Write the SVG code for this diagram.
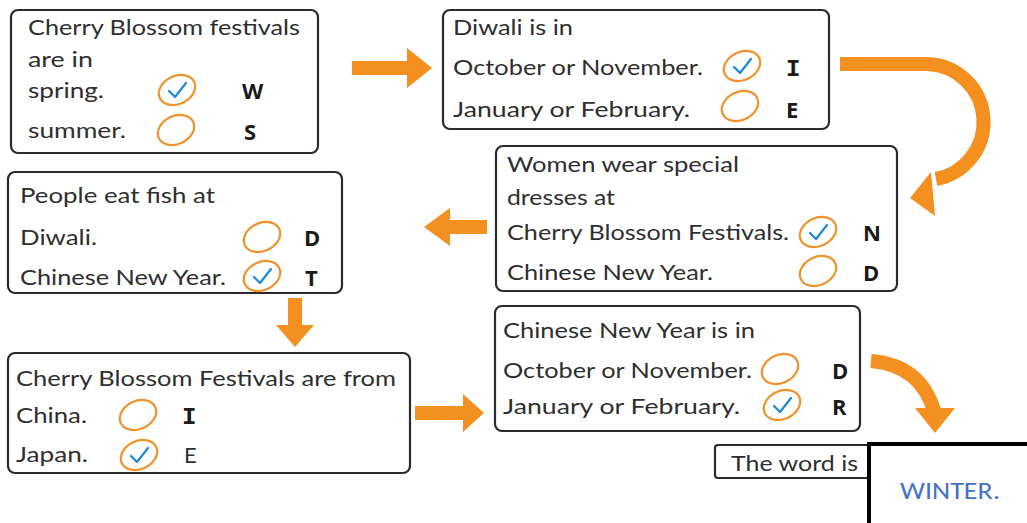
<svg xmlns="http://www.w3.org/2000/svg" width="1027" height="523" viewBox="0 0 1027 523">
<defs>
<style>
.box{fill:#fff;stroke:#2b2b2b;stroke-width:2.2}
.t{font-family:Lato,"Open Sans",sans-serif;font-size:22px;fill:#2f2f2f}
.l{font-family:"Open Sans","Liberation Sans",sans-serif;font-size:22px;font-weight:bold;fill:#1a1a1a}
.li{font-family:"Liberation Mono",monospace;font-size:24px;font-weight:bold;fill:#1a1a1a}
.ring{fill:none;stroke:#f0922b;stroke-width:2.2}
.tick{fill:none;stroke:#1e88d8;stroke-width:2.2;stroke-linecap:round;stroke-linejoin:round}
.arr{fill:#f39020}
.arrs{fill:none;stroke:#f39020;stroke-width:14}
</style>
<g id="ring"><ellipse class="ring" cx="0" cy="0" rx="19" ry="14" transform="rotate(-25)"/></g>
<g id="check"><ellipse class="ring" cx="0" cy="0" rx="19" ry="14" transform="rotate(-25)"/><path class="tick" d="M-8,1 L-2,7 L9,-7"/></g>
</defs>
<rect width="1027" height="523" fill="#fff"/>

<g id="connectors">
<path class="arr" d="M352,61 H407 V48 L432,68 L407,88 V75 H352 Z"/>
<path class="arrs" d="M840,64 H928 A58,58 0 0 1 936,179"/>
<path class="arr" d="M931,172 L910,198 L935,216 Z"/>
<path class="arr" d="M487,220 H450 V208 L424,227 L450,246 V234 H487 Z"/>
<path class="arr" d="M288,298 H302 V325 H314 L295,347 L276,325 H288 Z"/>
<path class="arr" d="M415,406 H463 V394 L484,413 L463,432 V420 H415 Z"/>
<path class="arrs" d="M871,361 Q922,365 935,414"/>
<path class="arr" d="M915,408 L955,408 L935,433 Z"/>
</g>

<g id="node1">
<rect class="box" x="11" y="10" width="307" height="143" rx="7"/>
<text class="t" x="28" y="35" textLength="272" lengthAdjust="spacingAndGlyphs">Cherry Blossom festivals</text>
<text class="t" x="28" y="67" textLength="65" lengthAdjust="spacingAndGlyphs">are in</text>
<text class="t" x="28" y="98" textLength="76" lengthAdjust="spacingAndGlyphs">spring.</text>
<text class="t" x="28" y="138" textLength="98" lengthAdjust="spacingAndGlyphs">summer.</text>
<use href="#check" x="177" y="90"/>
<use href="#ring" x="176" y="130"/>
<text class="l" x="242" y="99">W</text>
<text class="l" x="244" y="140">S</text>
</g>

<g id="node2">
<rect class="box" x="443" y="10" width="386" height="119" rx="7"/>
<text class="t" x="453" y="35" textLength="120" lengthAdjust="spacingAndGlyphs">Diwali is in</text>
<text class="t" x="453" y="75" textLength="250" lengthAdjust="spacingAndGlyphs">October or November.</text>
<text class="t" x="453" y="117" textLength="237" lengthAdjust="spacingAndGlyphs">January or February.</text>
<use href="#check" x="742" y="66"/>
<use href="#ring" x="740" y="106"/>
<text class="li" x="786" y="76">I</text>
<text class="l" x="786" y="118">E</text>
</g>

<g id="node3">
<rect class="box" x="496" y="146" width="401" height="145" rx="7"/>
<text class="t" x="507" y="172" textLength="232" lengthAdjust="spacingAndGlyphs">Women wear special</text>
<text class="t" x="507" y="205" textLength="108" lengthAdjust="spacingAndGlyphs">dresses at</text>
<text class="t" x="507" y="240" textLength="282" lengthAdjust="spacingAndGlyphs">Cherry Blossom Festivals.</text>
<text class="t" x="507" y="280" textLength="206" lengthAdjust="spacingAndGlyphs">Chinese New Year.</text>
<use href="#check" x="818" y="232"/>
<use href="#ring" x="818" y="271"/>
<text class="l" x="863" y="241">N</text>
<text class="l" x="863" y="281">D</text>
</g>

<g id="node4">
<rect class="box" x="8" y="172" width="334" height="121" rx="7"/>
<text class="t" x="20" y="203" textLength="195" lengthAdjust="spacingAndGlyphs">People eat fish at</text>
<text class="t" x="20" y="245" textLength="77" lengthAdjust="spacingAndGlyphs">Diwali.</text>
<text class="t" x="20" y="285" textLength="206" lengthAdjust="spacingAndGlyphs">Chinese New Year.</text>
<use href="#ring" x="262" y="237"/>
<use href="#check" x="262" y="276"/>
<text class="l" x="304" y="246">D</text>
<text class="l" x="305" y="286">T</text>
</g>

<g id="node5">
<rect class="box" x="8" y="353" width="402" height="120" rx="7"/>
<text class="t" x="16" y="386" textLength="380" lengthAdjust="spacingAndGlyphs">Cherry Blossom Festivals are from</text>
<text class="t" x="16" y="423" textLength="71" lengthAdjust="spacingAndGlyphs">China.</text>
<text class="t" x="16" y="462" textLength="72" lengthAdjust="spacingAndGlyphs">Japan.</text>
<use href="#ring" x="138" y="415"/>
<use href="#check" x="139" y="455"/>
<text class="li" x="182" y="424">I</text>
<text class="t" x="184" y="463">E</text>
</g>

<g id="node6">
<rect class="box" x="495" y="306" width="365" height="125" rx="7"/>
<text class="t" x="503" y="338" textLength="252" lengthAdjust="spacingAndGlyphs">Chinese New Year is in</text>
<text class="t" x="503" y="378" textLength="249" lengthAdjust="spacingAndGlyphs">October or November.</text>
<text class="t" x="503" y="414" textLength="237" lengthAdjust="spacingAndGlyphs">January or February.</text>
<use href="#ring" x="780" y="369"/>
<use href="#check" x="782" y="405"/>
<text class="l" x="832" y="379">D</text>
<text class="l" x="832" y="415">R</text>
</g>

<g id="node7">
<rect class="box" x="715" y="445" width="170" height="33" rx="3"/>
<text class="t" x="731" y="471" textLength="127" lengthAdjust="spacingAndGlyphs">The word is</text>
</g>

<g id="node8">
<rect x="869" y="444" width="162" height="85" fill="#fff" stroke="#000" stroke-width="4"/>
<text x="900" y="499" font-family="Carlito,'Liberation Sans',sans-serif" font-size="24" fill="#4472c4" textLength="100" lengthAdjust="spacingAndGlyphs">WINTER.</text>
</g>
</svg>
